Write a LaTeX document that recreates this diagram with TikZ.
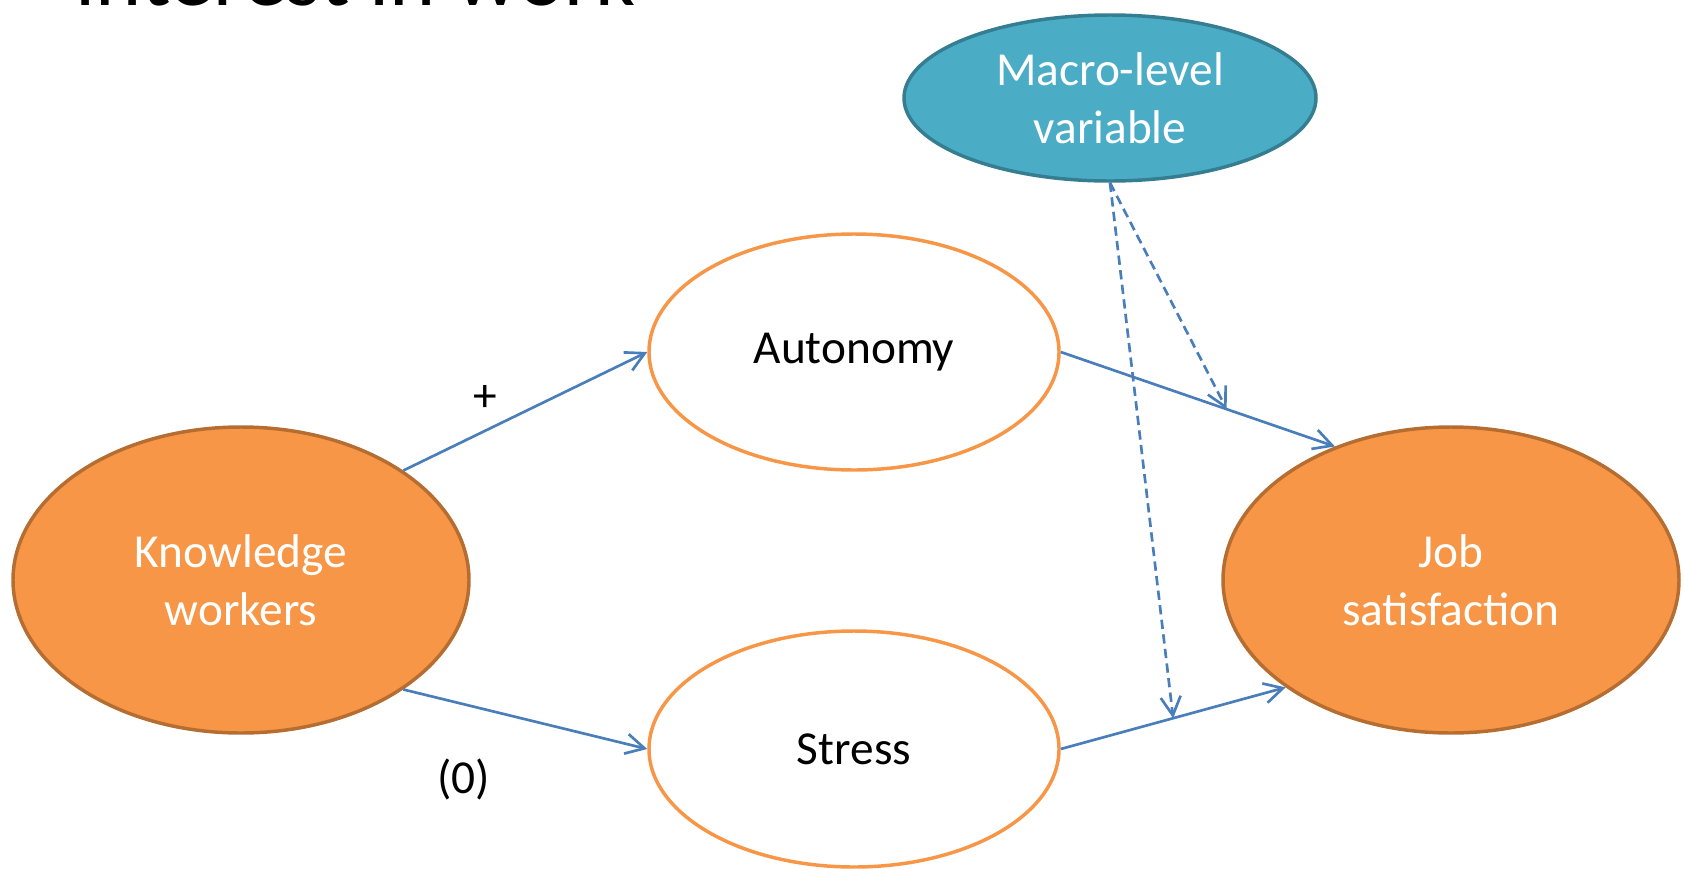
\documentclass[tikz,border=0pt]{standalone}
\usepackage{fontspec}
\setmainfont{Carlito}
\usetikzlibrary{shapes.geometric,arrows.meta}
\definecolor{orangefill}{RGB}{247,150,70}
\definecolor{orangeline}{RGB}{182,109,49}
\definecolor{tealfill}{RGB}{75,172,198}
\definecolor{tealline}{RGB}{53,125,145}
\definecolor{linkblue}{RGB}{74,126,187}

\begin{document}
\begin{tikzpicture}[x=0.75pt,y=0.75pt,yscale=-1,xscale=1,
  every node/.style={font=\fontsize{35.5}{43.5}\selectfont},
  fulloval/.style={ellipse,draw=orangeline,fill=orangefill,line width=2.6pt,inner sep=0pt,
    minimum width=342pt,minimum height=229.5pt,text=white,align=center},
  emptyoval/.style={ellipse,draw=orangefill,fill=white,line width=2.6pt,inner sep=0pt,
    minimum width=307.5pt,minimum height=177pt,align=center},
  macrooval/.style={ellipse,draw=tealline,fill=tealfill,line width=2.6pt,inner sep=0pt,
    minimum width=309pt,minimum height=124.5pt,text=white,align=center},
  link/.style={draw=linkblue,line width=2pt,-{Straight Barb[length=14pt,width=15pt]}},
  dashlink/.style={link,dash pattern=on 7pt off 4pt}]
\useasboundingbox (0,0) rectangle (1685,868);

% Title (cut off at the top)
\node [anchor=base west,font=\fontsize{66}{80}\selectfont] (title) at (71,5) {interest in work};

%Shape: Ellipse
\node [fulloval] (know) at (241,580) {Knowledge\\workers};
%Shape: Ellipse
\node [fulloval] (job) at (1451,580) {Job\\satisfaction};
%Shape: Ellipse
\node [emptyoval] (aut) at (854,352) {Autonomy};
%Shape: Ellipse
\node [emptyoval] (stress) at (854,749) {Stress};
%Shape: Ellipse
\node [macrooval] (macro) at (1110,98) {Macro-level\\variable};

%Straight Lines
\draw [link] (know.34) -- (aut.west);
\draw [link] (know.-34) -- (stress.west);
\draw [link] (aut.east) -- coordinate[pos=0.605] (autjob) (job.131.7);
\draw [link] (stress.east) -- coordinate[pos=0.5] (stressjob) (job.213.9);
%Dashed Lines
\draw [dashlink] (macro.south) -- (autjob);
\draw [dashlink] (macro.south) -- (stressjob);

% Text Node
\node (plus) at (485,398) {+};
% Text Node
\node (zero) at (464,779) {(0)};

\end{tikzpicture}
\end{document}
